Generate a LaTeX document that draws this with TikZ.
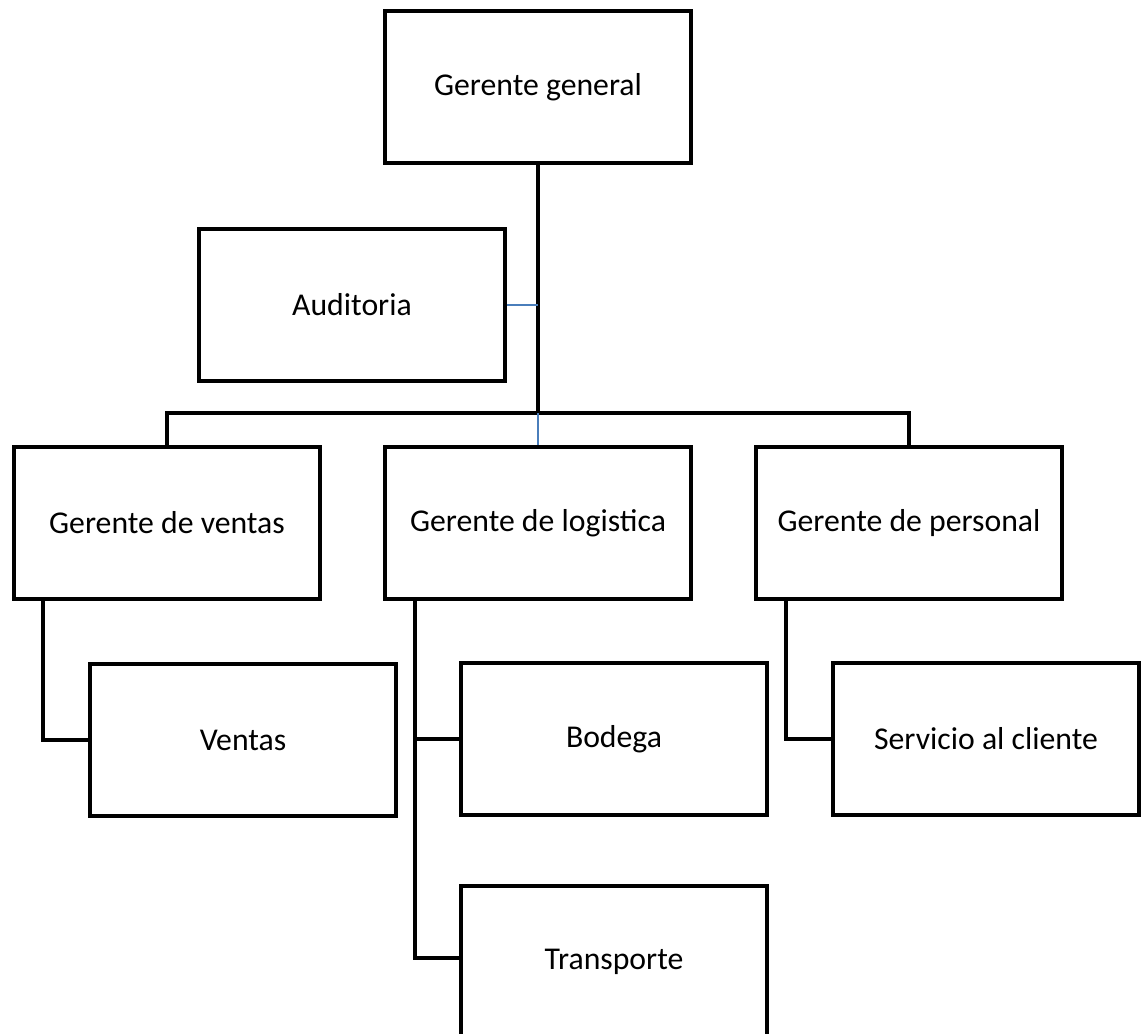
\documentclass[tikz,border=0pt]{standalone}
\usepackage{fontspec}
\setmainfont{Carlito}
\usetikzlibrary{positioning, calc}

\definecolor{linkblue}{RGB}{74,126,187}

\begin{document}
\begin{tikzpicture}[x=0.75pt,y=-0.75pt]
    \tikzstyle{orgbox}=[draw=black, line width=3pt, minimum width=229pt, minimum height=114pt, inner sep=0pt, font=\fontsize{23.8}{28}\selectfont]
    \tikzstyle{link}=[black, line width=3pt]
    \tikzstyle{thinlink}=[linkblue, line width=1.3pt]
    \useasboundingbox (0,0) rectangle (1145,1034);
    \clip (0,0) rectangle (1145,1034);
    \node[orgbox] (gg) at (538,87) {Gerente general};
    \node[orgbox] (aud) at (352,305) {Auditoria};
    \node[orgbox] (gv) at (167,523) {Gerente de ventas};
    \node[orgbox] (gl) at (538,523) {Gerente de logistica};
    \node[orgbox] (gp) at (909,523) {Gerente de personal};
    \node[orgbox] (ven) at (243,740) {Ventas};
    \node[orgbox] (bod) at (614,739) {Bodega};
    \node[orgbox] (tra) at (614,962) {Transporte};
    \node[orgbox] (ser) at (986,739) {Servicio al cliente};
    \coordinate (bar) at (538,413);
    \draw [link] (gg.south) -- (bar);
    \draw [link] (gv.north) |- (bar) -| (gp.north);
    \draw [thinlink] (bar) -- (gl.north);
    \draw [thinlink] (aud.east) -- (aud.east -| bar);
    \coordinate (vd) at ([xshift=23pt]gv.south west);
    \coordinate (ld) at ([xshift=24pt]gl.south west);
    \coordinate (pd) at ([xshift=24pt]gp.south west);
    \draw [link] (vd) |- (ven.west);
    \draw [link] (ld) |- ([yshift=3pt]tra.west);
    \draw [link] (bod.west) -- (bod.west -| ld);
    \draw [link] (pd) |- (ser.west);
\end{tikzpicture}
\end{document}
